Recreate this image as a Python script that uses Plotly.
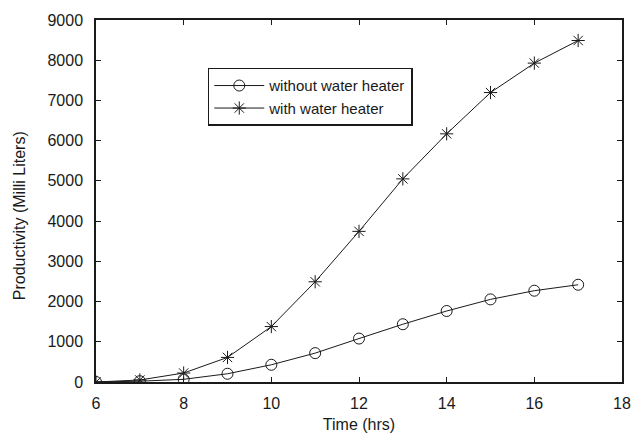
import plotly.graph_objects as go

hours = [6, 7, 8, 9, 10, 11, 12, 13, 14, 15, 16, 17]
without_heater = [0, 20, 67, 205, 428, 718, 1080, 1436, 1765, 2054, 2270, 2418]
with_heater = [0, 50, 223, 611, 1378, 2492, 3745, 5050, 6170, 7196, 7928, 8490]

x_ticks = [6, 8, 10, 12, 14, 16, 18]
y_ticks = [0, 1000, 2000, 3000, 4000, 5000, 6000, 7000, 8000, 9000]

ink = "#1a1a1a"
font_family = "Liberation Sans, Arial, sans-serif"

fig = go.Figure()
fig.add_trace(go.Scatter(
    x=hours, y=without_heater, mode="lines+markers", name="without water heater",
    line=dict(color=ink, width=1),
    marker=dict(symbol="circle-open", size=11, color=ink, line=dict(width=1)),
))
fig.add_trace(go.Scatter(
    x=hours, y=with_heater, mode="lines+markers", name="with water heater",
    line=dict(color=ink, width=1),
    marker=dict(symbol="asterisk-open", size=11, color=ink, line=dict(width=1)),
))

axis_common = dict(
    showgrid=False, zeroline=False, showline=True, linecolor=ink, linewidth=1.5,
    mirror="ticks", ticks="inside", ticklen=5, tickcolor=ink, tickwidth=1,
    tickfont=dict(family=font_family, size=16, color=ink),
)

fig.update_layout(
    width=643, height=443,
    margin=dict(l=96, r=20, t=19, b=60),
    paper_bgcolor="white", plot_bgcolor="white",
    font=dict(family=font_family, color=ink),
    xaxis=dict(range=[6, 18], tickvals=x_ticks, ticklabelstandoff=6,
               title=dict(text="Time (hrs)", font=dict(size=16), standoff=8),
               **axis_common),
    yaxis=dict(range=[0, 9000], tickvals=y_ticks, ticklabelstandoff=8,
               **axis_common),
    legend=dict(
        x=0.2125, y=0.868, xanchor="left", yanchor="top",
        bgcolor="white", bordercolor=ink, borderwidth=1.5,
        font=dict(family=font_family, size=15, color=ink),
        tracegroupgap=0, itemwidth=50,
    ),
)

# Y-axis title placed as a rotated annotation left of the tick labels
fig.add_annotation(
    text="Productivity (Milli Liters)", textangle=-90,
    xref="paper", yref="paper", x=-0.145, y=0.46,
    xanchor="center", yanchor="middle", showarrow=False,
    font=dict(family=font_family, size=16, color=ink),
)

fig.write_html("out.html")
